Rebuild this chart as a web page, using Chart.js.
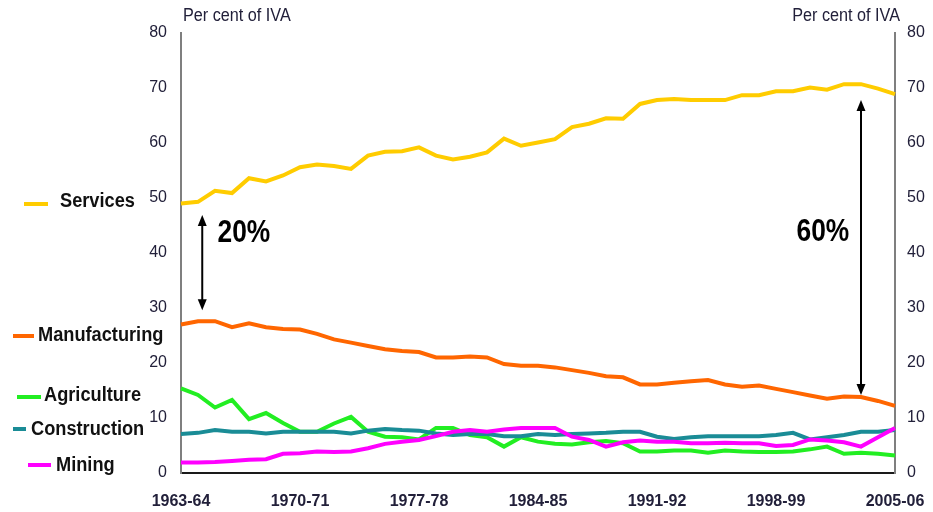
<!DOCTYPE html>
<html><head><meta charset="utf-8">
<script src="https://cdn.jsdelivr.net/npm/chart.js@4/dist/chart.umd.min.js"></script>
<style>html,body{margin:0;padding:0;background:#fff}#wrap{width:933px;height:512px;position:relative}</style>
</head><body><div id="wrap"><canvas id="c"></canvas></div>
<script>
const years = ['1963-64','1964-65','1965-66','1966-67','1967-68','1968-69','1969-70','1970-71','1971-72','1972-73','1973-74','1974-75','1975-76','1976-77','1977-78','1978-79','1979-80','1980-81','1981-82','1982-83','1983-84','1984-85','1985-86','1986-87','1987-88','1988-89','1989-90','1990-91','1991-92','1992-93','1993-94','1994-95','1995-96','1996-97','1997-98','1998-99','1999-00','2000-01','2001-02','2002-03','2003-04','2004-05','2005-06'];
const tickLabels = ['1963-64','1970-71','1977-78','1984-85','1991-92','1998-99','2005-06'];
const services = [49.0,49.3,51.3,50.9,53.6,53.0,54.1,55.6,56.1,55.8,55.3,57.7,58.4,58.5,59.2,57.7,57.0,57.5,58.3,60.8,59.5,60.1,60.7,62.9,63.5,64.5,64.4,67.1,67.8,68.0,67.8,67.8,67.8,68.7,68.7,69.4,69.4,70.1,69.7,70.7,70.7,69.9,68.9];
const manufacturing = [27.0,27.6,27.6,26.5,27.2,26.5,26.2,26.1,25.3,24.3,23.7,23.1,22.5,22.2,22.0,21.0,21.0,21.2,21.0,19.8,19.5,19.5,19.2,18.7,18.2,17.6,17.4,16.1,16.1,16.4,16.7,16.9,16.1,15.7,15.9,15.3,14.7,14.1,13.5,13.9,13.8,13.1,12.2];
const agriculture = [15.4,14.2,11.9,13.3,9.8,10.9,9.1,7.5,7.5,9.0,10.2,7.5,6.6,6.5,6.1,8.2,8.2,6.9,6.5,4.8,6.5,5.7,5.3,5.2,5.6,5.8,5.4,3.9,3.9,4.1,4.1,3.7,4.1,3.9,3.8,3.8,3.9,4.3,4.8,3.5,3.7,3.5,3.2];
const construction = [7.1,7.3,7.8,7.5,7.5,7.2,7.5,7.5,7.5,7.5,7.2,7.7,8.0,7.8,7.7,7.2,6.9,7.1,7.1,6.7,6.7,7.1,6.9,7.1,7.2,7.3,7.5,7.5,6.6,6.2,6.5,6.7,6.7,6.7,6.7,6.9,7.3,6.1,6.5,6.9,7.5,7.5,7.8];
const mining = [1.9,1.9,2.0,2.2,2.4,2.5,3.5,3.6,3.9,3.8,3.9,4.5,5.3,5.7,6.0,6.7,7.5,7.8,7.5,7.9,8.2,8.2,8.2,6.6,6.0,4.8,5.6,5.9,5.7,5.7,5.4,5.4,5.5,5.4,5.4,4.9,5.1,6.1,5.9,5.6,4.8,6.5,8.2];
const seriesNames = ['Services','Manufacturing','Agriculture','Construction','Mining'];
const axisTitle = 'Per cent of IVA';
const arrowLabels = ['20%','60%'];
const arrowIndex = [1.25, 40];
const arrowFrom = [29.6, 14.2];
const arrowTo = [46.9, 67.8];
const arrowLabelIndex = [2.15, 37.76];
const arrowLabelValue = [43.6, 43.8];

const FONT = "'Liberation Sans', Arial, sans-serif";
const TXT = '#22203a';
const colors = ['#FFCC00','#FF6600','#22EE22','#1A8C96','#FF00FF'];
const seriesData = [services, manufacturing, agriculture, construction, mining];
const drawOrder = [4,3,2,1,0];

// legend placement (pixels)
const legendLayout = [
  {sx:24, sw:24, sy:204, tx:60, ty:201},
  {sx:13, sw:21, sy:336, tx:38, ty:335},
  {sx:17, sw:24, sy:397, tx:44, ty:395},
  {sx:13, sw:13, sy:429, tx:31, ty:429},
  {sx:28, sw:23, sy:465, tx:56, ty:465}
];

function narrowText(ctx, text, x, y, align, k){
  ctx.save(); ctx.translate(x, y); ctx.scale(k, 1);
  ctx.textAlign = align; ctx.fillText(text, 0, 0); ctx.restore();
}

const overlay = {
  id:'overlay',
  afterDatasetsDraw(chart){
    const ctx = chart.ctx, x = chart.scales.x, y = chart.scales.y;
    ctx.save();
    ctx.strokeStyle = '#000'; ctx.fillStyle = '#000'; ctx.lineWidth = 2;
    for (let i=0;i<arrowLabels.length;i++){
      const px = x.getPixelForValue(arrowIndex[i]);
      const y1 = y.getPixelForValue(arrowFrom[i]);
      const y2 = y.getPixelForValue(arrowTo[i]);
      ctx.beginPath(); ctx.moveTo(px, y1-8); ctx.lineTo(px, y2+8); ctx.stroke();
      ctx.beginPath(); ctx.moveTo(px, y2); ctx.lineTo(px-4.5, y2+11); ctx.lineTo(px+4.5, y2+11); ctx.closePath(); ctx.fill();
      ctx.beginPath(); ctx.moveTo(px, y1); ctx.lineTo(px-4.5, y1-11); ctx.lineTo(px+4.5, y1-11); ctx.closePath(); ctx.fill();
      ctx.font = "bold 31px " + FONT;
      ctx.textBaseline = 'middle';
      narrowText(ctx, arrowLabels[i], x.getPixelForValue(arrowLabelIndex[i]), y.getPixelForValue(arrowLabelValue[i]), i===0 ? 'left' : 'center', 0.85);
    }
    ctx.fillStyle = TXT; ctx.font = "18px " + FONT; ctx.textBaseline = 'middle';
    narrowText(ctx, axisTitle, 183, 16, 'left', 0.9);
    narrowText(ctx, axisTitle, 900, 16, 'right', 0.9);
    ctx.font = "bold 20px " + FONT;
    legendLayout.forEach((l,i)=>{
      ctx.strokeStyle = colors[i]; ctx.lineWidth = 4;
      ctx.beginPath(); ctx.moveTo(l.sx, l.sy); ctx.lineTo(l.sx+l.sw, l.sy); ctx.stroke();
      ctx.fillStyle = '#111';
      narrowText(ctx, seriesNames[i], l.tx, l.ty, 'left', 0.91);
    });
    ctx.restore();
  }
};

const tickFont = {family: FONT, size: 16};
new Chart(document.getElementById('c'), {
  type:'line',
  data:{
    labels: years,
    datasets: seriesNames.map((n,i)=>({
      label:n, data:seriesData[i], borderColor:colors[i], backgroundColor:colors[i],
      borderWidth:4, pointRadius:0, tension:0, fill:false, yAxisID:'y', order:drawOrder[i]
    }))
  },
  options:{
    responsive:true, maintainAspectRatio:false, animation:false,
    layout:{padding:{top:33,left:0,right:0,bottom:0}},
    plugins:{legend:{display:false}, tooltip:{enabled:false}},
    scales:{
      x:{ type:'category', offset:false,
        grid:{display:false, drawTicks:false},
        border:{display:true, color:'#1a1a1a', width:2},
        ticks:{autoSkip:false, maxRotation:0, minRotation:0, padding:19, color:TXT,
          font:{family:FONT, size:16, weight:'bold'},
          callback:(v,i)=> tickLabels.includes(years[i]) ? years[i] : ''},
        afterFit(s){ s.height = 39; s.paddingLeft = 0; s.paddingRight = 0; }
      },
      y:{ position:'left', min:0, max:80,
        grid:{display:false, drawTicks:false},
        border:{display:true, color:'#7f7f7f', width:2},
        ticks:{stepSize:10, padding:14, color:TXT, font:tickFont},
        afterFit(s){ s.width = 181; }
      },
      y2:{ position:'right', min:0, max:80,
        grid:{display:false, drawTicks:false},
        border:{display:true, color:'#7f7f7f', width:2},
        ticks:{stepSize:10, padding:12, color:TXT, font:tickFont},
        afterFit(s){ s.width = 38; }
      }
    }
  },
  plugins:[overlay]
});
</script></body></html>
